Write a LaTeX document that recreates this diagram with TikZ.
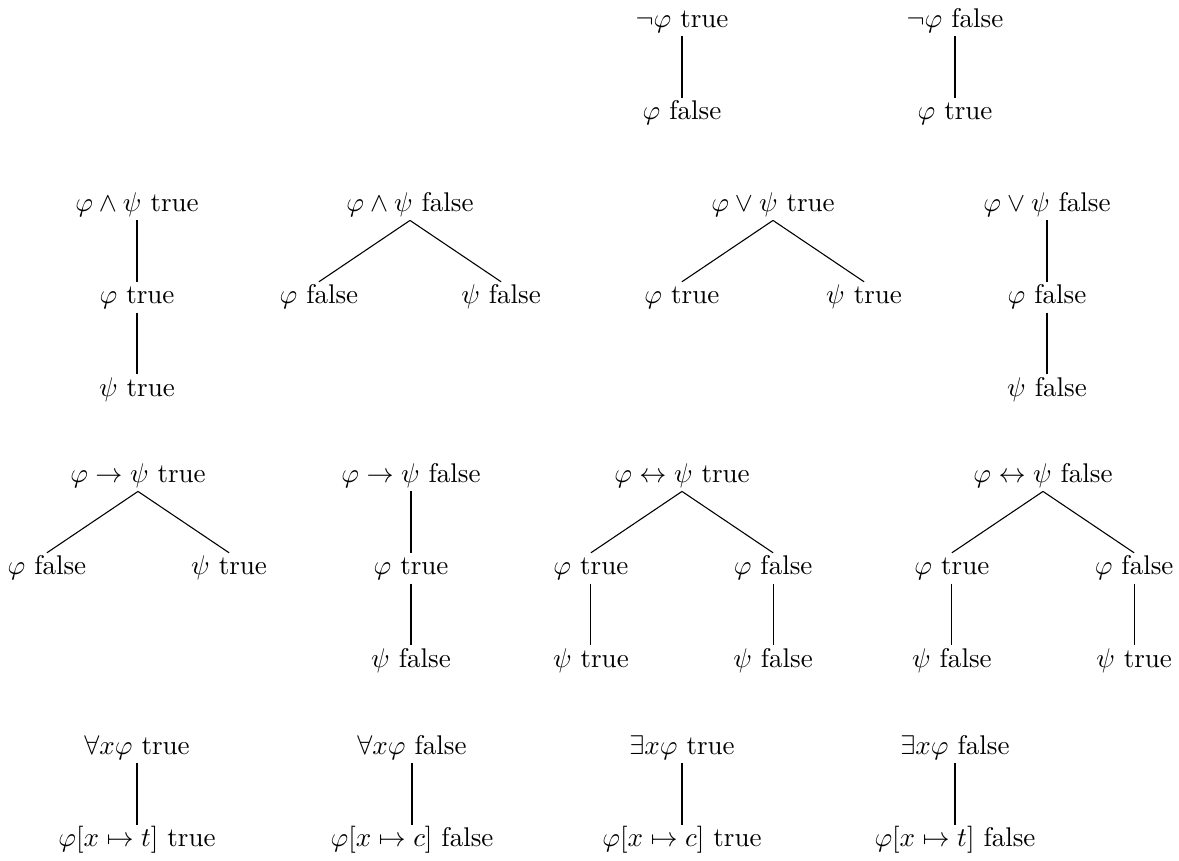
\documentclass[tikz,border=0pt]{standalone}
\usepackage{amsmath}
\usepackage{amssymb}
\usepackage{tikz}
\usetikzlibrary{positioning}

\begin{document}
\begin{tikzpicture}[
    x=0.013cm,
    y=-0.013cm,
    node distance=22.7pt,
    formula/.style={
        inner sep=1pt,
        text height=7pt,
        text depth=2pt
    },
    izq/.style={xshift=-33.7pt},
    der/.style={xshift=33.7pt}
]
\useasboundingbox (0,0) rectangle (1179,860);

\node[formula] (negtrue) at (682,21) {$\neg\varphi$ true};
\node[formula, below=of negtrue] (negtrueA) {$\varphi$ false};

\node[formula] (negfalse) at (955,21) {$\neg\varphi$ false};
\node[formula, below=of negfalse] (negfalseA) {$\varphi$ true};

\node[formula] (andtrue) at (137,205) {$\varphi \land \psi$ true};
\node[formula, below=of andtrue] (andtrueA) {$\varphi$ true};
\node[formula, below=of andtrueA] (andtrueB) {$\psi$ true};

\node[formula] (andfalse) at (410,205) {$\varphi \land \psi$ false};
\node[formula, below=of andfalse, izq] (andfalseA) {$\varphi$ false};
\node[formula, below=of andfalse, der] (andfalseB) {$\psi$ false};

\node[formula] (ortrue) at (773,205) {$\varphi \lor \psi$ true};
\node[formula, below=of ortrue, izq] (ortrueA) {$\varphi$ true};
\node[formula, below=of ortrue, der] (ortrueB) {$\psi$ true};

\node[formula] (orfalse) at (1047,205) {$\varphi \lor \psi$ false};
\node[formula, below=of orfalse] (orfalseA) {$\varphi$ false};
\node[formula, below=of orfalseA] (orfalseB) {$\psi$ false};

\node[formula] (imptrue) at (138,476) {$\varphi \to \psi$ true};
\node[formula, below=of imptrue, izq] (imptrueA) {$\varphi$ false};
\node[formula, below=of imptrue, der] (imptrueB) {$\psi$ true};

\node[formula] (impfalse) at (411,476) {$\varphi \to \psi$ false};
\node[formula, below=of impfalse] (impfalseA) {$\varphi$ true};
\node[formula, below=of impfalseA] (impfalseB) {$\psi$ false};

\node[formula] (ifftrue) at (682,476) {$\varphi \leftrightarrow \psi$ true};
\node[formula, below=of ifftrue, izq] (ifftrueA) {$\varphi$ true};
\node[formula, below=of ifftrue, der] (ifftrueB) {$\varphi$ false};
\node[formula, below=of ifftrueA] (ifftrueC) {$\psi$ true};
\node[formula, below=of ifftrueB] (ifftrueD) {$\psi$ false};

\node[formula] (ifffalse) at (1043,476) {$\varphi \leftrightarrow \psi$ false};
\node[formula, below=of ifffalse, izq] (ifffalseA) {$\varphi$ true};
\node[formula, below=of ifffalse, der] (ifffalseB) {$\varphi$ false};
\node[formula, below=of ifffalseA] (ifffalseC) {$\psi$ false};
\node[formula, below=of ifffalseB] (ifffalseD) {$\psi$ true};

\node[formula] (alltrue) at (137,748) {$\forall x \varphi$ true};
\node[formula, below=of alltrue] (alltrueA) {$\varphi[x \mapsto t]$ true};

\node[formula] (allfalse) at (412,748) {$\forall x \varphi$ false};
\node[formula, below=of allfalse] (allfalseA) {$\varphi[x \mapsto c]$ false};

\node[formula] (extrue) at (682,748) {$\exists x \varphi$ true};
\node[formula, below=of extrue] (extrueA) {$\varphi[x \mapsto c]$ true};

\node[formula] (exfalse) at (955,748) {$\exists x \varphi$ false};
\node[formula, below=of exfalse] (exfalseA) {$\varphi[x \mapsto t]$ false};

\draw (negtrue.south) -- (negtrueA.north);
\draw (negfalse.south) -- (negfalseA.north);

\draw (andtrue.south) -- (andtrueA.north);
\draw (andtrueA.south) -- (andtrueB.north);
\draw (andfalse.south) -- (andfalseA.north);
\draw (andfalse.south) -- (andfalseB.north);
\draw (ortrue.south) -- (ortrueA.north);
\draw (ortrue.south) -- (ortrueB.north);
\draw (orfalse.south) -- (orfalseA.north);
\draw (orfalseA.south) -- (orfalseB.north);

\draw (imptrue.south) -- (imptrueA.north);
\draw (imptrue.south) -- (imptrueB.north);
\draw (impfalse.south) -- (impfalseA.north);
\draw (impfalseA.south) -- (impfalseB.north);
\draw (ifftrue.south) -- (ifftrueA.north);
\draw (ifftrue.south) -- (ifftrueB.north);
\draw (ifftrueA.south) -- (ifftrueC.north);
\draw (ifftrueB.south) -- (ifftrueD.north);
\draw (ifffalse.south) -- (ifffalseA.north);
\draw (ifffalse.south) -- (ifffalseB.north);
\draw (ifffalseA.south) -- (ifffalseC.north);
\draw (ifffalseB.south) -- (ifffalseD.north);

\draw (alltrue.south) -- (alltrueA.north);
\draw (allfalse.south) -- (allfalseA.north);
\draw (extrue.south) -- (extrueA.north);
\draw (exfalse.south) -- (exfalseA.north);

\end{tikzpicture}
\end{document}
